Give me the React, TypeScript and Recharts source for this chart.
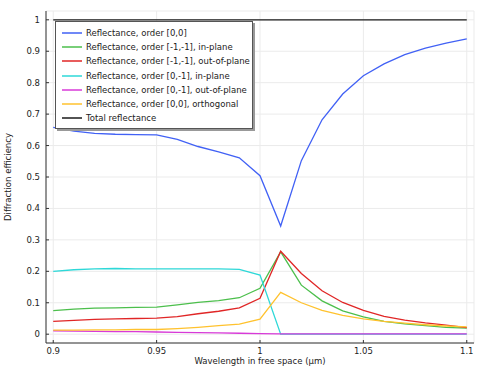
import { LineChart, Line, XAxis, YAxis, CartesianGrid, Legend } from "recharts";

const wavelengths = [
  0.9, 0.91, 0.92, 0.93, 0.94, 0.95, 0.96, 0.97, 0.98, 0.99, 1.0,
  1.01, 1.02, 1.03, 1.04, 1.05, 1.06, 1.07, 1.08, 1.09, 1.1,
];

const refl00 = [
  0.658, 0.646, 0.639, 0.636, 0.635, 0.634, 0.62, 0.597, 0.58, 0.561, 0.504,
  0.344, 0.552, 0.682, 0.764, 0.822, 0.86, 0.889, 0.91, 0.926, 0.939,
];
const reflM1M1In = [
  0.075, 0.08, 0.083, 0.084, 0.085, 0.086, 0.093, 0.101, 0.107, 0.116, 0.146,
  0.262, 0.156, 0.106, 0.074, 0.055, 0.041, 0.033, 0.027, 0.022, 0.019,
];
const reflM1M1Out = [
  0.041, 0.044, 0.047, 0.049, 0.05, 0.051, 0.056, 0.065, 0.073, 0.084, 0.114,
  0.264, 0.193, 0.138, 0.101, 0.076, 0.057, 0.045, 0.036, 0.029, 0.021,
];
const refl0M1In = [
  0.2, 0.205, 0.208, 0.209, 0.208, 0.208, 0.208, 0.208, 0.208, 0.206, 0.188,
  0, 0, 0, 0, 0, 0, 0, 0, 0, 0,
];
const refl0M1Out = [
  0.011, 0.01, 0.009, 0.008, 0.008, 0.007, 0.006, 0.005, 0.004, 0.003, 0.002,
  0.001, 0.001, 0.001, 0.001, 0.001, 0.001, 0.001, 0.001, 0.001, 0.001,
];
const refl00Orth = [
  0.013, 0.013, 0.014, 0.014, 0.015, 0.015, 0.018, 0.022, 0.027, 0.032, 0.048,
  0.133, 0.1, 0.076, 0.06, 0.049, 0.041, 0.035, 0.03, 0.026, 0.023,
];
const totalRefl = wavelengths.map(() => 1);

const xTicks = [0.9, 0.95, 1, 1.05, 1.1];
const yTicks = [0, 0.1, 0.2, 0.3, 0.4, 0.5, 0.6, 0.7, 0.8, 0.9, 1];

const data = wavelengths.map((x, i) => ({
  x,
  r00: refl00[i],
  rm1in: reflM1M1In[i],
  rm1out: reflM1M1Out[i],
  r0m1in: refl0M1In[i],
  r0m1out: refl0M1Out[i],
  r00o: refl00Orth[i],
  total: totalRefl[i],
}));

const series = [
  { key: "r00", name: "Reflectance, order [0,0]", color: "#4161f5" },
  { key: "rm1in", name: "Reflectance, order [-1,-1], in-plane", color: "#4cbf4c" },
  { key: "rm1out", name: "Reflectance, order [-1,-1], out-of-plane", color: "#e02626" },
  { key: "r0m1in", name: "Reflectance, order [0,-1], in-plane", color: "#2ed8d8" },
  { key: "r0m1out", name: "Reflectance, order [0,-1], out-of-plane", color: "#d83ad8" },
  { key: "r00o", name: "Reflectance, order [0,0], orthogonal", color: "#ffc22e" },
  { key: "total", name: "Total reflectance", color: "#1a1a1a" },
];

const FONT = "DejaVu Sans, sans-serif";
const TICK = 3;

const fmt = (v: number) => String(Math.round(v * 100) / 100);

function LeftTick({ x, y, payload }: any) {
  return (
    <g>
      <line x1={x + 6} x2={x + 6 + TICK} y1={y} y2={y} stroke="#333" />
      <text x={x} y={y} textAnchor="end" dominantBaseline="central" fontSize={8.5} fontFamily={FONT} fill="#222">
        {fmt(payload.value)}
      </text>
    </g>
  );
}

function BottomTick({ x, y, payload }: any) {
  return (
    <g>
      <line x1={x} x2={x} y1={y - 4} y2={y - 4 - TICK} stroke="#333" />
      <text x={x} y={y + 4} textAnchor="middle" dominantBaseline="central" fontSize={8.5} fontFamily={FONT} fill="#222">
        {fmt(payload.value)}
      </text>
    </g>
  );
}

function TopTick({ x, y }: any) {
  return <line x1={x} x2={x} y1={y} y2={y + TICK} stroke="#333" />;
}

function RightTick({ x, y }: any) {
  return <line x1={x} x2={x - TICK} y1={y} y2={y} stroke="#333" />;
}

function YLabel({ viewBox }: any) {
  const cx = viewBox.x + 8;
  const cy = viewBox.y + viewBox.height / 2;
  return (
    <text x={cx} y={cy} transform={`rotate(-90 ${cx} ${cy})`} textAnchor="middle" dominantBaseline="central" fontSize={8.5} fontFamily={FONT} fill="#222">
      Diffraction efficiency
    </text>
  );
}

function LegendBox() {
  return (
    <div
      style={{
        background: "#fff",
        border: "1px solid #555",
        boxShadow: "2px 2px 0 #999",
        padding: "4px 0 3px 0",
        width: 196,
        fontFamily: FONT,
        fontSize: 8.5,
        color: "#222",
      }}
    >
      {series.map((s) => (
        <div key={s.key} style={{ display: "flex", alignItems: "center", height: 14.2 }}>
          <svg width={20} height={4} style={{ marginLeft: 6, marginRight: 4 }}>
            <line x1={0} x2={20} y1={2} y2={2} stroke={s.color} strokeWidth={1.5} />
          </svg>
          <span style={{ whiteSpace: "nowrap" }}>{s.name}</span>
        </div>
      ))}
    </div>
  );
}

export default function App() {
  return (
    <div style={{ position: "absolute", left: 0, top: 0, background: "#fff" }}>
      <LineChart width={479} height={366} data={data} margin={{ top: 11, right: 5, left: 0, bottom: 0 }}>
        <CartesianGrid xAxisId="b" yAxisId="l" stroke="#ebebeb" strokeWidth={1} />
        <XAxis
          xAxisId="b"
          dataKey="x"
          type="number"
          domain={[0.8965, 1.1035]}
          ticks={xTicks}
          allowDataOverflow
          height={23}
          tickSize={0}
          tickMargin={4}
          tickLine={false}
          axisLine={{ stroke: "#333" }}
          tick={<BottomTick />}
          label={{ value: "Wavelength in free space (µm)", position: "insideBottom", offset: 2, fontSize: 8.5, fontFamily: FONT, fill: "#222" }}
        />
        <XAxis
          xAxisId="t"
          orientation="top"
          dataKey="x"
          type="number"
          domain={[0.8965, 1.1035]}
          ticks={xTicks}
          allowDataOverflow
          height={0}
          tickSize={0}
          tickLine={false}
          axisLine={{ stroke: "#333" }}
          tick={<TopTick />}
        />
        <YAxis
          yAxisId="l"
          type="number"
          domain={[-0.028, 1.028]}
          ticks={yTicks}
          allowDataOverflow
          width={46}
          tickSize={0}
          tickMargin={6}
          tickLine={false}
          axisLine={{ stroke: "#333" }}
          tick={<LeftTick />}
          label={<YLabel />}
        />
        <YAxis
          yAxisId="r"
          orientation="right"
          type="number"
          domain={[-0.028, 1.028]}
          ticks={yTicks}
          allowDataOverflow
          width={0}
          tickSize={0}
          tickLine={false}
          axisLine={{ stroke: "#333" }}
          tick={<RightTick />}
        />
        <Legend
          layout="vertical"
          verticalAlign="middle"
          align="center"
          wrapperStyle={{ left: 55, top: 21, width: "auto" }}
          content={<LegendBox />}
        />
        {series.map((s) => (
          <Line
            key={s.key}
            xAxisId="b"
            yAxisId="l"
            type="linear"
            dataKey={s.key}
            name={s.name}
            stroke={s.color}
            strokeWidth={1.3}
            dot={false}
            isAnimationActive={false}
          />
        ))}
      </LineChart>
    </div>
  );
}
